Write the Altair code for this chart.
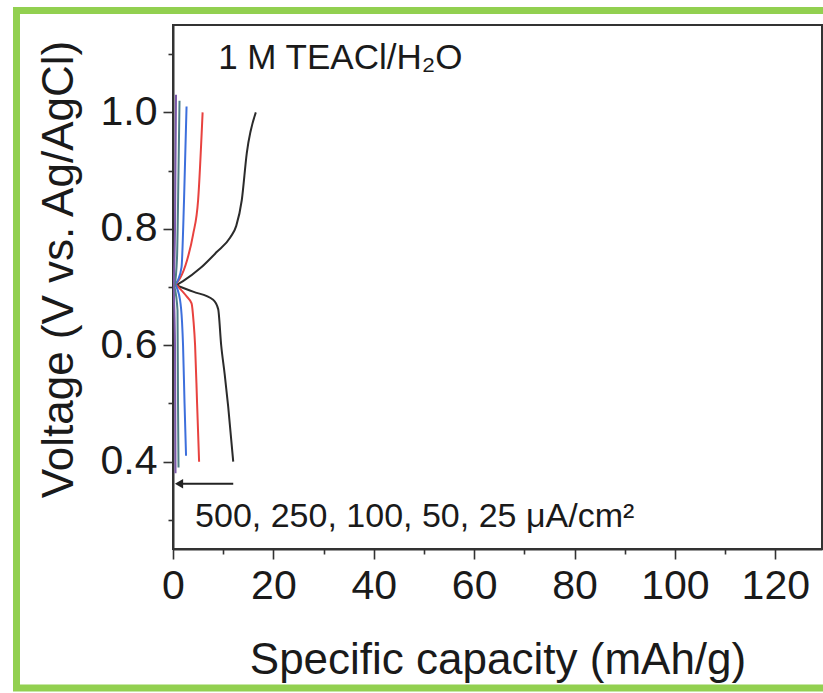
import altair as alt
import pandas as pd

# ---------------- data ----------------
series_names = ["25", "50", "100", "250", "500"]
series_colors = ["#2b2b2b", "#e8423f", "#3d6fdc", "#4e7f86", "#7a58a8"]

# charge branch / discharge branch (capacity mAh/g, voltage V)
cap_up_25 = [0.6, 2.0, 5.4, 8.7, 11.4, 12.6, 13.7, 14.7, 16.5]
volt_up_25 = [0.703, 0.710, 0.732, 0.760, 0.785, 0.805, 0.849, 0.93, 1.0]
cap_dn_25 = [0.6, 4.0, 8.0, 9.0, 9.6, 10.3, 11.0, 12.0]
volt_dn_25 = [0.703, 0.692, 0.678, 0.662, 0.60, 0.55, 0.494, 0.40]

cap_up_50 = [0.5, 1.4, 2.8, 4.0, 5.0, 5.9]
volt_up_50 = [0.705, 0.715, 0.746, 0.79, 0.849, 1.0]
cap_dn_50 = [0.5, 2.8, 3.7, 4.1, 4.4, 4.8, 5.2]
volt_dn_50 = [0.705, 0.683, 0.672, 0.640, 0.60, 0.50, 0.40]

cap_up_100 = [0.4, 1.0, 1.7, 2.2, 2.7]
volt_up_100 = [0.705, 0.712, 0.734, 0.85, 1.01]
cap_dn_100 = [0.4, 1.4, 1.8, 2.0, 2.3, 2.6]
volt_dn_100 = [0.705, 0.678, 0.64, 0.60, 0.50, 0.41]

cap_up_250 = [0.3, 0.8, 1.1, 1.3]
volt_up_250 = [0.70, 0.75, 0.90, 1.02]
cap_dn_250 = [0.3, 0.9, 1.0, 1.1]
volt_dn_250 = [0.70, 0.66, 0.50, 0.39]

cap_up_500 = [0.1, 0.4, 0.6]
volt_up_500 = [0.70, 0.80, 1.03]
cap_dn_500 = [0.1, 0.4, 0.5]
volt_dn_500 = [0.70, 0.60, 0.38]

x_ticks = [0, 10, 20, 30, 40, 50, 60, 70, 80, 90, 100, 110, 120]
y_ticks = [0.3, 0.4, 0.5, 0.6, 0.7, 0.8, 0.9, 1.0, 1.1]

label_text = ["1 M TEACl/H\u2082O", "500, 250, 100, 50, 25 \u03bcA/cm\u00b2"]
label_cap = [9.0, 4.4]
label_volt = [1.093, 0.305]
label_size = [35, 34]

arrow_cap = [12.0, 1.2]
arrow_volt = [0.362, 0.362]

# ---------------- build table ----------------
branches = {
    "25": [(cap_up_25, volt_up_25), (cap_dn_25, volt_dn_25)],
    "50": [(cap_up_50, volt_up_50), (cap_dn_50, volt_dn_50)],
    "100": [(cap_up_100, volt_up_100), (cap_dn_100, volt_dn_100)],
    "250": [(cap_up_250, volt_up_250), (cap_dn_250, volt_dn_250)],
    "500": [(cap_up_500, volt_up_500), (cap_dn_500, volt_dn_500)],
}
rows = []
for s in series_names:
    for bi, (cs, vs) in enumerate(branches[s]):
        for i, (c, v) in enumerate(zip(cs, vs)):
            rows.append({"series": s, "key": f"{s}-{bi}", "idx": i, "cap": c, "volt": v})
df = pd.DataFrame(rows)

FONT = "Liberation Sans"
INK = "#1a1a1a"

xscale = alt.Scale(domain=[0, 129.3], nice=False, zero=False)
yscale = alt.Scale(domain=[0.25, 1.15], nice=False, zero=False)

x_axis = alt.Axis(
    values=x_ticks,
    labelExpr="datum.value % 20 === 0 ? datum.label : ''",
    tickSize={"condition": {"test": "datum.value % 20 === 0", "value": 10}, "value": 5},
    title="Specific capacity (mAh/g)",
    grid=False, labelFlush=False, labelOverlap=False,
    domainColor="#333", domainWidth=2, tickColor="#333", tickWidth=1.6,
    labelFont=FONT, titleFont=FONT, labelFontSize=41, titleFontSize=44,
    labelColor=INK, titleColor=INK, titleFontWeight="normal",
    labelPadding=7, titlePadding=32,
)
y_axis = alt.Axis(
    values=y_ticks,
    labelExpr="round(datum.value*10) % 2 === 0 ? format(datum.value, '.1f') : ''",
    tickSize={"condition": {"test": "round(datum.value*10) % 2 === 0", "value": 10}, "value": 5},
    title="Voltage (V vs. Ag/AgCl)",
    grid=False, labelFlush=False, labelOverlap=False,
    domainColor="#333", domainWidth=2, tickColor="#333", tickWidth=1.6,
    labelFont=FONT, titleFont=FONT, labelFontSize=41, titleFontSize=44,
    labelColor=INK, titleColor=INK, titleFontWeight="normal",
    labelPadding=6, titlePadding=19, titleY=244,
)

lines = alt.Chart(df).mark_line(strokeWidth=2, clip=True, interpolate="monotone").encode(
    x=alt.X("cap:Q", scale=xscale, axis=x_axis),
    y=alt.Y("volt:Q", scale=yscale, axis=y_axis),
    color=alt.Color("series:N", scale=alt.Scale(domain=series_names, range=series_colors), legend=None),
    detail="key:N",
    order="idx:Q",
)

labels_df = pd.DataFrame({"text": label_text, "cap": label_cap, "volt": label_volt, "size": label_size})
labels = alt.Chart(labels_df).mark_text(align="left", baseline="middle", font=FONT, color=INK).encode(
    x=alt.X("cap:Q", scale=xscale),
    y=alt.Y("volt:Q", scale=yscale),
    text="text:N",
    size=alt.Size("size:Q", scale=None, legend=None),
)

arrow_df = pd.DataFrame({"cap": arrow_cap, "volt": arrow_volt, "idx": [0, 1]})
arrow_line = alt.Chart(arrow_df).mark_line(color="#222", strokeWidth=2).encode(
    x=alt.X("cap:Q", scale=xscale), y=alt.Y("volt:Q", scale=yscale), order="idx:Q"
)
arrow_head = alt.Chart(arrow_df.iloc[[1]]).mark_point(
    shape="triangle-left", filled=True, color="#222", size=90, opacity=1
).encode(x=alt.X("cap:Q", scale=xscale), y=alt.Y("volt:Q", scale=yscale))

frame = alt.Chart(pd.DataFrame({"a": [0]})).mark_rect(
    fill=None, stroke="#92d050", strokeWidth=7
).encode(
    x=alt.value(-156.5), x2=alt.value(680), y=alt.value(-14.5), y2=alt.value(663)
)

chart = alt.layer(frame, lines, arrow_line, arrow_head, labels).properties(
    width=649, height=524,
    padding={"left": 173, "top": 25, "right": 1, "bottom": 144},
    autosize="none",
    background="white",
).configure_view(stroke="#333", strokeWidth=2)

chart.save("out.html", embed_options={"renderer": "svg", "actions": False})
